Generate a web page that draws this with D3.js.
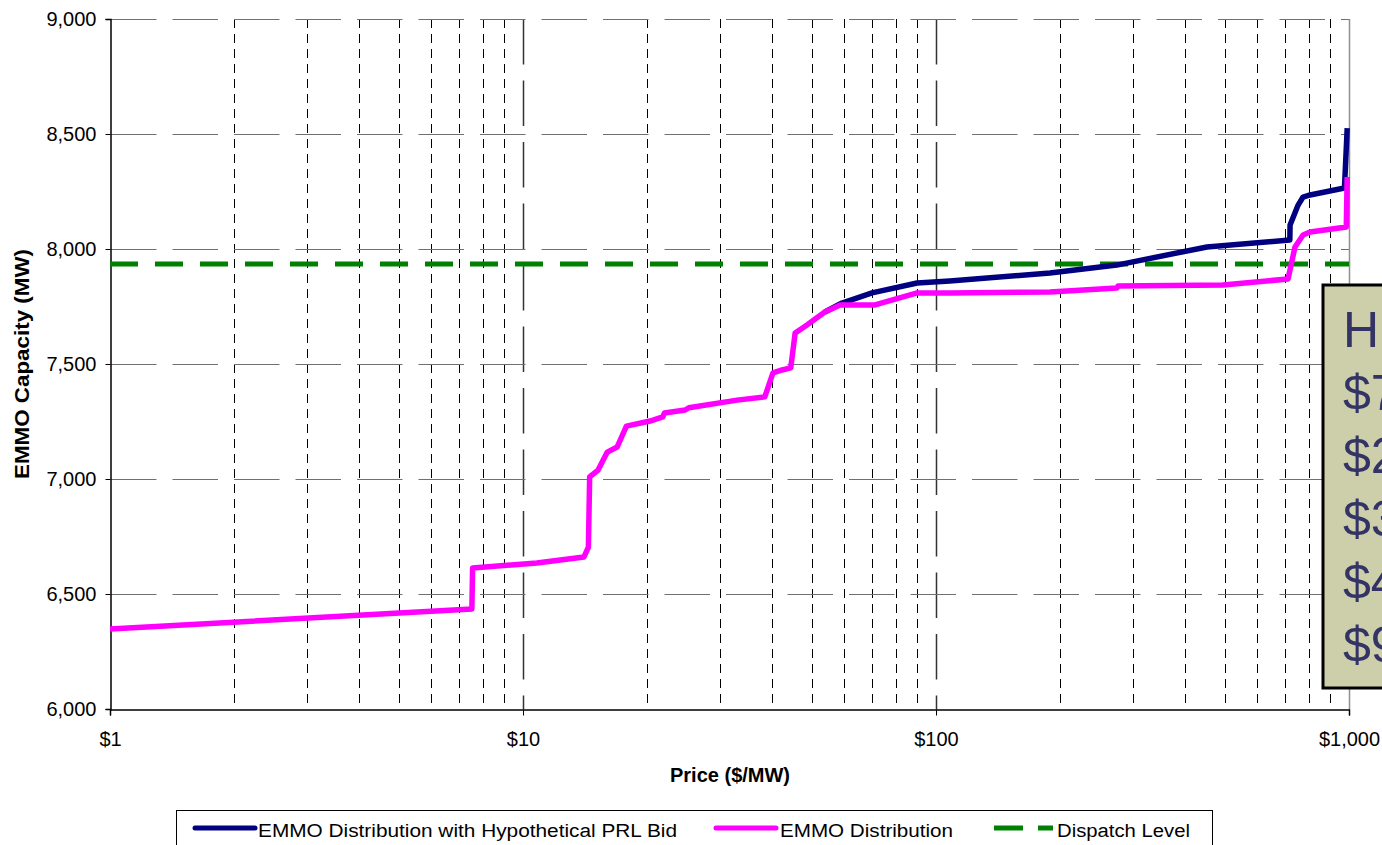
<!DOCTYPE html>
<html>
<head>
<meta charset="utf-8">
<script src="https://cdn.jsdelivr.net/npm/d3@7"></script>
<style>
  html, body { margin: 0; padding: 0; background: #fff; overflow: hidden; }
  svg { display: block; font-family: Arial, "Liberation Sans", sans-serif; }
</style>
</head>
<body>
<svg id="chart" width="1382" height="845"></svg>
<script>
// ---- data ----
const emmoPrice = [1, 7.52, 7.55, 10.8, 14.05, 14.4, 14.5, 15.2, 16.0, 16.9, 17.8, 20.3, 21.8, 22.0, 24.7, 25.2, 33.0, 38.5, 40.3, 42.4, 44.5, 45.6, 48.7, 53.8, 58.6, 71.2, 90.0, 108, 188.8, 274, 276, 495, 712, 740, 774, 805, 985, 990];
const emmoMW    = [6348, 6435, 6613, 6635, 6661, 6704, 7009, 7039, 7117, 7139, 7230, 7252, 7270, 7287, 7300, 7310, 7343, 7357, 7461, 7474, 7483, 7635, 7670, 7726, 7757, 7757, 7809, 7809, 7813, 7830, 7839, 7843, 7870, 8009, 8061, 8074, 8096, 8313];

const prlPrice = [53.8, 59.2, 70.0, 90, 108, 188.8, 274, 453, 719, 720, 753, 774, 805, 975, 990];
const prlMW    = [7726, 7765, 7809, 7852, 7861, 7896, 7930, 8009, 8039, 8104, 8191, 8226, 8235, 8265, 8526];

const dispatchLevel = 7935;

const yTicks = [6000, 6500, 7000, 7500, 8000, 8500, 9000];
const xTicks = [1, 10, 100, 1000];
const xTickLabels = ["$1", "$10", "$100", "$1,000"];

const seriesNames = ["EMMO Distribution with Hypothetical PRL Bid", "EMMO Distribution", "Dispatch Level"];
const noteLines = ["H", "$7", "$2", "$3", "$4", "$9"];

// ---- layout ----
const L = 110, R = 1349, T = 19, B = 709;
const svg = d3.select("#chart");
const x = d3.scaleLog().domain([1, 1000]).range([L, R]);
const y = d3.scaleLinear().domain([6000, 9000]).range([B, T]);

// minor vertical gridlines
const minor = [];
[1, 10, 100].forEach(d => { for (let k = 2; k <= 9; k++) minor.push(d * k); });
svg.append("g").selectAll("line").data(minor).join("line")
  .attr("x1", d => Math.round(x(d)) + 0.5).attr("x2", d => Math.round(x(d)) + 0.5)
  .attr("y1", T).attr("y2", B)
  .attr("stroke", "#000").attr("stroke-width", 1).attr("stroke-dasharray", "9,6");

// major vertical gridlines
svg.append("g").selectAll("line").data([10, 100]).join("line")
  .attr("x1", d => Math.round(x(d)) + 0.5).attr("x2", d => Math.round(x(d)) + 0.5)
  .attr("y1", T).attr("y2", B)
  .attr("stroke", "#333").attr("stroke-width", 1.5).attr("stroke-dasharray", "45.5,16");

// horizontal gridlines
svg.append("g").selectAll("line").data(yTicks.filter(d => d > 6000)).join("line")
  .attr("x1", L + 1).attr("x2", R)
  .attr("y1", d => Math.round(y(d)) + 0.5).attr("y2", d => Math.round(y(d)) + 0.5)
  .attr("stroke", "#707070").attr("stroke-width", 1.2).attr("stroke-dasharray", "45.5,16");

// plot border (right) gray
svg.append("line").attr("x1", R + 0.5).attr("x2", R + 0.5).attr("y1", T).attr("y2", B)
  .attr("stroke", "#909090").attr("stroke-width", 1.5);

// axes
const yAxis = d3.axisLeft(y).tickValues(yTicks).tickSize(5).tickFormat(d3.format(","));
const gy = svg.append("g").attr("transform", `translate(${L + 0.5},0)`).call(yAxis);
gy.select(".domain").attr("stroke", "#000").attr("stroke-width", 1.5);
gy.selectAll(".tick line").attr("stroke", "#000");
gy.selectAll(".tick text").attr("font-size", "20px").attr("fill", "#000")
  .attr("font-family", "Arial, 'Liberation Sans', sans-serif").attr("x", -14);

const xAxis = d3.axisBottom(x).tickValues(xTicks).tickSize(6)
  .tickFormat((d, i) => xTickLabels[i]);
const gx = svg.append("g").attr("transform", `translate(0,${B + 0.5})`).call(xAxis);
gx.select(".domain").attr("stroke", "#000").attr("stroke-width", 1.5);
gx.selectAll(".tick line").attr("stroke", "#000");
gx.selectAll(".tick text").attr("font-size", "20px").attr("fill", "#000")
  .attr("font-family", "Arial, 'Liberation Sans', sans-serif").attr("y", 22);

// axis titles
svg.append("text").attr("x", 730).attr("y", 782).attr("text-anchor", "middle")
  .attr("font-size", "20px").attr("font-weight", "bold").text("Price ($/MW)");
svg.append("text").attr("transform", "translate(29,364) rotate(-90)").attr("text-anchor", "middle")
  .attr("font-size", "20px").attr("font-weight", "bold")
  .attr("textLength", 230).attr("lengthAdjust", "spacingAndGlyphs").text("EMMO Capacity (MW)");

// dispatch level
svg.append("line").attr("x1", L).attr("x2", R).attr("y1", y(dispatchLevel)).attr("y2", y(dispatchLevel))
  .attr("stroke", "#008000").attr("stroke-width", 5).attr("stroke-dasharray", "28,17");

// lines
const line = d3.line().x(d => x(d[0])).y(d => y(d[1]));
svg.append("path").datum(d3.zip(prlPrice, prlMW)).attr("d", line)
  .attr("fill", "none").attr("stroke", "#000080").attr("stroke-width", 5.5)
  .attr("stroke-linejoin", "round");
svg.append("path").datum(d3.zip(emmoPrice, emmoMW)).attr("d", line)
  .attr("fill", "none").attr("stroke", "#FF00FF").attr("stroke-width", 5.5)
  .attr("stroke-linejoin", "round");

// annotation box
const note = svg.append("g");
note.append("rect").attr("x", 1323).attr("y", 285).attr("width", 120).attr("height", 403)
  .attr("fill", "#CDCFAB").attr("stroke", "#000").attr("stroke-width", 3);
note.selectAll("text").data(noteLines).join("text")
  .attr("x", 1343).attr("y", (d, i) => 347 + i * 63)
  .attr("font-size", "50px").attr("fill", "#333366").text(d => d);

// legend
const lg = svg.append("g");
lg.append("rect").attr("x", 176.5).attr("y", 810.5).attr("width", 1036).attr("height", 50)
  .attr("fill", "#fff").attr("stroke", "#000").attr("stroke-width", 1);
const legendItems = [
  { x1: 195, x2: 255, tx: 258, w: 419, color: "#000080", dash: null },
  { x1: 716, x2: 776, tx: 780, w: 173, color: "#FF00FF", dash: null },
  { x1: 994, x2: 1053, tx: 1057, w: 133, color: "#008000", dash: "29,15" }
];
legendItems.forEach((it, i) => {
  const l = lg.append("line").attr("x1", it.x1).attr("x2", it.x2).attr("y1", 828).attr("y2", 828)
    .attr("stroke", it.color).attr("stroke-width", 5);
  if (it.dash) l.attr("stroke-dasharray", it.dash);
  else l.attr("stroke-linecap", "round");
  lg.append("text").attr("x", it.tx).attr("y", 837).attr("font-size", "18px")
    .attr("textLength", it.w).attr("lengthAdjust", "spacingAndGlyphs").text(seriesNames[i]);
});
</script>
</body>
</html>
